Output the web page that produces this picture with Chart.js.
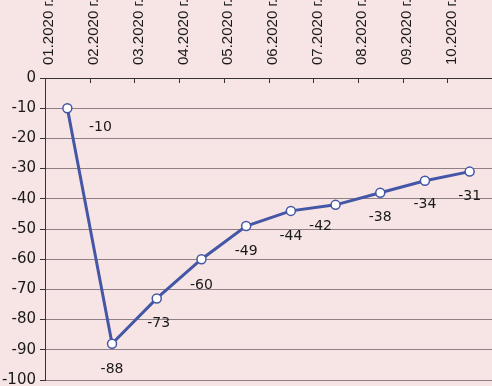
<!DOCTYPE html>
<html>
<head>
<meta charset="utf-8">
<script src="https://cdn.jsdelivr.net/npm/chart.js@4"></script>
<style>
  html, body { margin: 0; padding: 0; background: #f7e4e5; }
  #wrap { width: 492px; height: 386px; }
</style>
</head>
<body>
<div id="wrap"><canvas id="canvas"></canvas></div>
<script>
const months = ['01.2020 г.', '02.2020 г.', '03.2020 г.', '04.2020 г.', '05.2020 г.',
    '06.2020 г.', '07.2020 г.', '08.2020 г.', '09.2020 г.', '10.2020 г.'];
const values = [-10, -88, -73, -60, -49, -44, -42, -38, -34, -31];
const yMin = -100;
const yMax = 0;
const yStep = 10;

// label placement next to each point (excel put them mostly below)
const labelShift = [[33, 19], [0, 26], [2, 25], [0, 26], [0, 25], [0, 25], [-15, 22], [0, 25], [0, 24], [0, 25]];

const background = {
    id: 'background',
    beforeDraw(chart) {
        const ctx = chart.ctx;
        ctx.save();
        ctx.fillStyle = '#f7e4e5';
        ctx.fillRect(0, 0, chart.width, chart.height);
        ctx.restore();
    }
};

const innerTicks = {
    id: 'innerTicks',
    afterDatasetsDraw(chart) {
        const ctx = chart.ctx;
        const x = chart.scales.x;
        const top = chart.chartArea.top;
        ctx.save();
        ctx.strokeStyle = '#333';
        ctx.lineWidth = 1;
        for (let i = 1; i <= months.length; i++) {
            const px = Math.round((x.getPixelForValue(i - 1) + x.getPixelForValue(i)) / 2) + 0.5;
            ctx.beginPath();
            ctx.moveTo(px, top);
            ctx.lineTo(px, top + 5);
            ctx.stroke();
        }
        ctx.restore();
    }
};

const valueLabels = {
    id: 'valueLabels',
    afterDatasetsDraw(chart) {
        const ctx = chart.ctx;
        const meta = chart.getDatasetMeta(0);
        ctx.save();
        ctx.font = '14px "DejaVu Sans"';
        ctx.fillStyle = '#1a1a1a';
        ctx.textAlign = 'center';
        ctx.textBaseline = 'middle';
        meta.data.forEach((pt, i) => {
            const s = labelShift[i];
            ctx.fillText(String(values[i]), pt.x + s[0], pt.y + s[1]);
        });
        ctx.restore();
    }
};

new Chart(document.getElementById('canvas').getContext('2d'), {
    type: 'line',
    data: {
        labels: months,
        datasets: [{
            data: values,
            borderColor: '#4456a6',
            borderWidth: 3,
            pointRadius: 4.5,
            pointBackgroundColor: '#ffffff',
            pointBorderColor: '#4456a6',
            pointBorderWidth: 1.5,
            tension: 0
        }]
    },
    options: {
        responsive: true,
        maintainAspectRatio: false,
        animation: false,
        layout: { autoPadding: false, padding: { top: 0, right: 0, bottom: 6, left: 0 } },
        plugins: {
            legend: { display: false },
            tooltip: { enabled: false }
        },
        scales: {
            x: {
                position: 'top',
                offset: true,
                afterFit: (scale) => {
                    scale.height = 78;
                    scale.paddingLeft = 0;
                    scale.paddingRight = 0;
                },
                grid: { drawOnChartArea: false, drawTicks: false },
                border: { color: '#333' },
                ticks: {
                    minRotation: 90,
                    maxRotation: 90,
                    padding: 13,
                    color: '#1a1a1a',
                    font: { family: 'Liberation Sans', size: 15 }
                }
            },
            y: {
                min: yMin,
                max: yMax,
                afterFit: (scale) => {
                    scale.width = 45;
                    scale.paddingTop = 0;
                    scale.paddingBottom = 0;
                },
                grid: { color: '#8e8084', tickColor: '#333', tickLength: 5 },
                border: { color: '#333' },
                ticks: {
                    stepSize: yStep,
                    padding: 4,
                    color: '#1a1a1a',
                    font: { family: 'DejaVu Sans', size: 15 }
                }
            }
        }
    },
    plugins: [background, innerTicks, valueLabels]
});
</script>
</body>
</html>
